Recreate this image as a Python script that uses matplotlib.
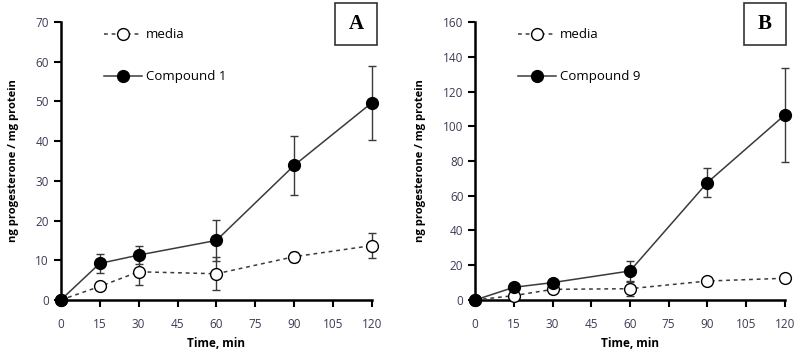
import matplotlib
matplotlib.use("Agg")
import matplotlib.pyplot as plt
from matplotlib.patches import Rectangle

# time points (min)
time = [0, 15, 30, 60, 90, 120]

# panel A
media_a = [0, 3.4, 7.1, 6.6, 10.9, 13.7]
media_a_err = [0, 0, 3.3, 4.2, 1.3, 3.1]
comp1 = [0, 9.2, 11.3, 15.0, 33.9, 49.7]
comp1_err = [0, 2.3, 2.3, 5.1, 7.4, 9.3]

# panel B
media_b = [0, 2.5, 6.1, 6.5, 10.9, 12.5]
media_b_err = [0, 0, 1.5, 4.0, 0, 1.5]
comp9 = [0, 7.3, 10.0, 16.7, 67.6, 106.5]
comp9_err = [0, 0, 0, 5.8, 8.6, 27.0]

xticks = [0, 15, 30, 45, 60, 75, 90, 105, 120]

plt.rcParams["font.family"] = ["Open Sans", "DejaVu Sans"]
tick_col = "#3b3b55"
line_col = "#3a3a3a"

fig = plt.figure(figsize=(8, 3.55), dpi=100)
ax_a = fig.add_axes([0.076, 0.155, 0.389, 0.783])
ax_b = fig.add_axes([0.594, 0.155, 0.387, 0.783])


def draw_panel(ax, media, media_err, comp, comp_err, comp_label, ymax, ystep, letter, box_x):
    ax.errorbar(time, media, yerr=media_err, color=line_col, lw=1.1, ls=(0, (2.5, 2.5)),
                marker="o", ms=8.5, mfc="white", mec="black", mew=1.0,
                ecolor=line_col, elinewidth=1.0, capsize=3, clip_on=False, zorder=3,
                label="media")
    ax.errorbar(time, comp, yerr=comp_err, color=line_col, lw=1.1, ls="-",
                marker="o", ms=8.5, mfc="black", mec="black",
                ecolor=line_col, elinewidth=1.0, capsize=3, clip_on=False, zorder=4,
                label=comp_label)
    ax.set_xlim(0, 120)
    ax.set_ylim(0, ymax)
    ax.set_xticks(xticks)
    ax.set_yticks(range(0, ymax + 1, ystep))
    for s in ["top", "right"]:
        ax.spines[s].set_visible(False)
    for s in ["left", "bottom"]:
        ax.spines[s].set_linewidth(1.8)
    ax.tick_params(axis="both", direction="out", length=5, width=1.5,
                   labelsize=8.5, labelcolor=tick_col)
    ax.tick_params(axis="x", pad=8)
    ax.set_xlabel("Time, min", fontsize=8.5, fontweight="bold", labelpad=4)
    ax.set_ylabel("ng progesterone / mg protein", fontsize=8, fontweight="bold", labelpad=12)
    handles, labels = ax.get_legend_handles_labels()
    handles = [h[0] for h in handles]
    ax.legend(handles, labels, loc="upper left", bbox_to_anchor=(0.10, 1.02),
              frameon=False, fontsize=9.5, handlelength=2.9, handletextpad=0.3,
              labelspacing=2.2)
    fig.patches.append(Rectangle((box_x, 1 - 45 / 355), 42 / 800, 42 / 355,
                                 transform=fig.transFigure, fill=False,
                                 edgecolor="#333333", lw=1.2))
    fig.text(box_x + 21 / 800, 1 - 24 / 355, letter, ha="center", va="center",
             fontsize=15, fontweight="bold", family="Liberation Serif")


draw_panel(ax_a, media_a, media_a_err, comp1, comp1_err, "Compound 1", 70, 10, "A", 335 / 800)
draw_panel(ax_b, media_b, media_b_err, comp9, comp9_err, "Compound 9", 160, 20, "B", 744 / 800)

fig.savefig("out.png", dpi=100)
